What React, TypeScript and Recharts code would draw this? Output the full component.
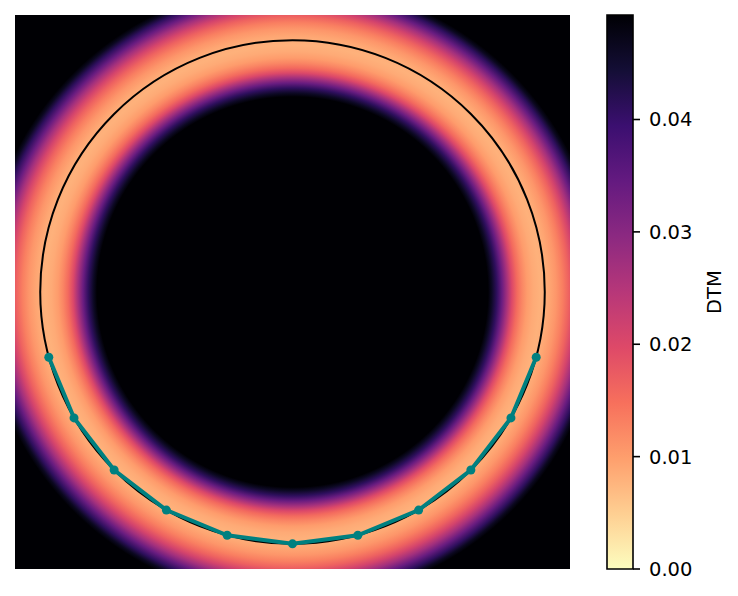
import React from "react";
import { ScatterChart, Scatter, XAxis, YAxis, ReferenceArea, ComposedChart } from "recharts";

// DTM radial profile (distance from centre, circle radius = 1)
const PROFILE_RADIUS = [
  0.775, 0.79, 0.81, 0.83, 0.85, 0.87, 0.89, 0.91, 0.93, 0.955, 0.98, 1.0, 1.02, 1.045,
  1.07, 1.095, 1.12, 1.145, 1.17, 1.195, 1.215, 1.23,
];
const PROFILE_DTM = [
  0.0493, 0.046, 0.041, 0.034, 0.027, 0.02, 0.0155, 0.0125, 0.0102, 0.0087, 0.008, 0.0083,
  0.0092, 0.0108, 0.0132, 0.0165, 0.021, 0.027, 0.034, 0.041, 0.0465, 0.0493,
];

// sampled points on the lower arc
const ARC_X = [-0.966, -0.866, -0.707, -0.5, -0.259, 0, 0.259, 0.5, 0.707, 0.866, 0.966];
const ARC_Y = [-0.259, -0.5, -0.707, -0.866, -0.966, -1, -0.966, -0.866, -0.707, -0.5, -0.259];

const CBAR_TICKS = [0, 0.01, 0.02, 0.03, 0.04];
const VMAX = 0.0493;
const EXTENT = 1.1;
const CIRCLE_R = 1;
const GRAD_R = 1.25;

const MAGMA = [
  "#000004", "#140e36", "#3b0f70", "#641a80", "#8c2981", "#b73779",
  "#de4968", "#f7705c", "#fe9f6d", "#fecf92", "#fcfdbf",
];

const hexToRgb = (h: string) => [1, 3, 5].map((i) => parseInt(h.slice(i, i + 2), 16));

// magma_r colour for a DTM value
const magmaR = (v: number) => {
  const t = Math.min(1, Math.max(0, v / VMAX));
  const s = (1 - t) * (MAGMA.length - 1);
  const i = Math.min(MAGMA.length - 2, Math.floor(s));
  const f = s - i;
  const a = hexToRgb(MAGMA[i]);
  const b = hexToRgb(MAGMA[i + 1]);
  const c = a.map((ai, k) => Math.round(ai + (b[k] - ai) * f));
  return `rgb(${c[0]},${c[1]},${c[2]})`;
};

const arcData = ARC_X.map((x, i) => ({ x, y: ARC_Y[i] }));

const FONT = "DejaVu Sans, sans-serif";

const CbarLabel = (props: any) => {
  const vb = props.viewBox || { x: 633, y: 15, width: 90, height: 554 };
  const cx = vb.x + 81;
  const cy = vb.y + vb.height / 2;
  return (
    <text
      x={cx}
      y={cy}
      transform={`rotate(-90, ${cx}, ${cy})`}
      textAnchor="middle"
      dominantBaseline="central"
      fontSize={19.5}
      fontFamily={FONT}
      fill="#000"
    >
      DTM
    </text>
  );
};

export default function App() {
  return (
    <div style={{ position: "absolute", left: 0, top: 0, display: "flex", fontFamily: FONT, background: "#fff" }}>
      <ScatterChart width={590} height={596} margin={{ top: 15, left: 15, right: 20, bottom: 27 }}>
        <defs>
          <radialGradient id="dtmField" cx="0.5" cy="0.5" r={GRAD_R / (2 * EXTENT)}>
            {PROFILE_RADIUS.map((r, i) => (
              <stop key={i} offset={r / GRAD_R} stopColor={magmaR(PROFILE_DTM[i])} />
            ))}
          </radialGradient>
        </defs>
        <XAxis type="number" dataKey="x" domain={[-EXTENT, EXTENT]} hide allowDataOverflow />
        <YAxis type="number" dataKey="y" domain={[-EXTENT, EXTENT]} hide allowDataOverflow width={0} />
        <ReferenceArea
          x1={-EXTENT}
          x2={EXTENT}
          y1={-EXTENT}
          y2={EXTENT}
          fill="url(#dtmField)"
          fillOpacity={1}
          stroke="none"
        />
        <ReferenceArea
          x1={-CIRCLE_R}
          x2={CIRCLE_R}
          y1={-CIRCLE_R}
          y2={CIRCLE_R}
          shape={(p: any) => (
            <ellipse
              cx={p.x + p.width / 2}
              cy={p.y + p.height / 2}
              rx={p.width / 2}
              ry={p.height / 2}
              fill="none"
              stroke="#000"
              strokeWidth={2}
            />
          )}
        />
        <Scatter
          data={arcData}
          fill="#008080"
          line={{ stroke: "#008080", strokeWidth: 4 }}
          shape={(p: any) => <circle cx={p.cx} cy={p.cy} r={4.5} fill="#008080" />}
          isAnimationActive={false}
        />
      </ScatterChart>
      <ComposedChart width={148} height={596} margin={{ top: 15, left: 17, right: 15, bottom: 27 }} data={[{ x: 0 }]}>
        <defs>
          <linearGradient id="cbar" x1="0" y1="1" x2="0" y2="0">
            {MAGMA.map((_, i) => (
              <stop key={i} offset={i / (MAGMA.length - 1)} stopColor={magmaR((i / (MAGMA.length - 1)) * VMAX)} />
            ))}
          </linearGradient>
        </defs>
        <XAxis type="number" dataKey="x" domain={[0, 1]} hide />
        <YAxis
          type="number"
          orientation="right"
          domain={[0, VMAX]}
          ticks={CBAR_TICKS}
          allowDataOverflow
          width={90}
          axisLine={false}
          tickSize={7}
          tickMargin={9}
          tickLine={{ stroke: "#000", strokeWidth: 1.6 }}
          tick={{ fill: "#000", fontSize: 19.5, fontFamily: FONT }}
          tickFormatter={(v: number) => v.toFixed(2)}
          label={<CbarLabel />}
        />
        <ReferenceArea
          x1={0}
          x2={1}
          y1={0}
          y2={VMAX}
          fill="url(#cbar)"
          fillOpacity={1}
          stroke="#000"
          strokeWidth={1.6}
        />
      </ComposedChart>
    </div>
  );
}
